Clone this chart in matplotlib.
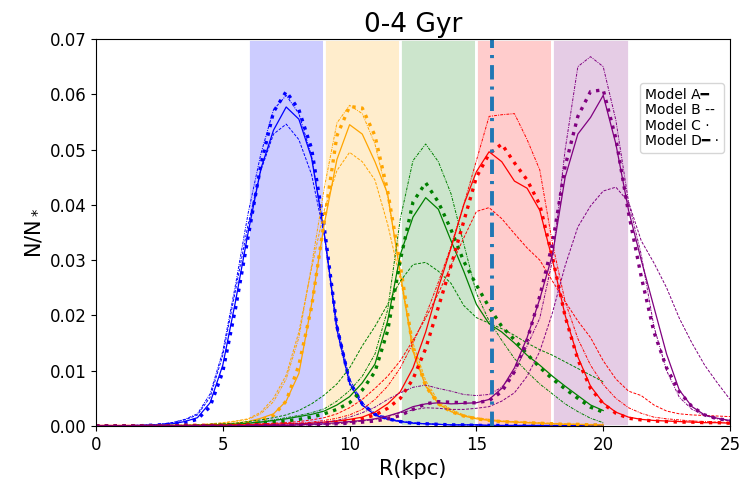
#!/usr/bin/env python3

# radial distribution of young stars (0-4 Gyr) for the four models,
# one colour per birth annulus

import numpy as np
import matplotlib.pyplot as plt
from matplotlib.colors import to_rgba
from matplotlib.lines import Line2D

nan = np.nan

radius = [0.0, 0.5, 1.0, 1.5, 2.0, 2.5, 3.0, 3.5, 4.0, 4.5,
          5.0, 5.5, 6.0, 6.5, 7.0, 7.5, 8.0, 8.5, 9.0, 9.5,
          10.0, 10.5, 11.0, 11.5, 12.0, 12.5, 13.0, 13.5, 14.0, 14.5,
          15.0, 15.5, 16.0, 16.5, 17.0, 17.5, 18.0, 18.5, 19.0, 19.5,
          20.0, 20.5, 21.0, 21.5, 22.0, 22.5, 23.0, 23.5, 24.0, 24.5, 25.0]

# annulus 6-9 kpc
blue_a = [0, 0, 0, 0.0001, 0.0001, 0.0002, 0.0004, 0.0008, 0.0015, 0.0042,
          0.0110, 0.0225, 0.0350, 0.0465, 0.0535, 0.0577, 0.0555, 0.0485, 0.0350, 0.0175,
          0.0078, 0.0038, 0.0020, 0.0012, 0.0008, 0.0005, 0.0004, 0.0003, 0.0002, 0.0002,
          0.0002, 0.0001, 0.0001, 0.0001, 0.0001, 0.0001, 0.0001, 0.0001, 0.0001, 0.0001,
          0.0001, nan, nan, nan, nan, nan, nan, nan, nan, nan, nan]
blue_b = [0, 0, 0, 0.0001, 0.0002, 0.0003, 0.0006, 0.0011, 0.0020, 0.0052,
          0.0128, 0.0245, 0.0365, 0.0462, 0.0528, 0.0546, 0.0518, 0.0455, 0.0345, 0.0185,
          0.0085, 0.0042, 0.0023, 0.0014, 0.0009, 0.0006, 0.0004, 0.0003, 0.0002, 0.0002,
          0.0002, 0.0001, 0.0001, 0.0001, 0.0001, 0.0001, 0.0001, 0.0001, 0.0001, 0.0001,
          0.0001, nan, nan, nan, nan, nan, nan, nan, nan, nan, nan]
blue_c = [0, 0, 0, 0, 0.0001, 0.0002, 0.0003, 0.0006, 0.0012, 0.0035,
          0.0098, 0.0212, 0.0342, 0.0472, 0.0568, 0.0605, 0.0572, 0.0502, 0.0360, 0.0180,
          0.0080, 0.0040, 0.0021, 0.0013, 0.0008, 0.0005, 0.0004, 0.0003, 0.0002, 0.0002,
          0.0001, 0.0001, 0.0001, 0.0001, 0.0001, 0.0001, 0.0001, 0.0001, 0.0001, 0.0001,
          0.0001, nan, nan, nan, nan, nan, nan, nan, nan, nan, nan]
blue_d = [0, 0, 0, 0.0001, 0.0002, 0.0003, 0.0006, 0.0012, 0.0022, 0.0058,
          0.0135, 0.0255, 0.0385, 0.0492, 0.0572, 0.0598, 0.0565, 0.0488, 0.0348, 0.0172,
          0.0075, 0.0037, 0.0020, 0.0012, 0.0008, 0.0005, 0.0004, 0.0003, 0.0002, 0.0002,
          0.0002, 0.0001, 0.0001, 0.0001, 0.0001, 0.0001, 0.0001, 0.0001, 0.0001, 0.0001,
          0.0001, nan, nan, nan, nan, nan, nan, nan, nan, nan, nan]

# annulus 9-12 kpc
orange_a = [0, 0, 0, 0, 0, 0.0001, 0.0001, 0.0001, 0.0001, 0.0002,
            0.0003, 0.0005, 0.0008, 0.0014, 0.0022, 0.0045, 0.0095, 0.0220, 0.0365, 0.0482,
            0.0545, 0.0528, 0.0478, 0.0420, 0.0275, 0.0135, 0.0072, 0.0040, 0.0026, 0.0018,
            0.0013, 0.0010, 0.0008, 0.0007, 0.0006, 0.0005, 0.0004, 0.0003, 0.0003, 0.0002,
            0.0002, nan, nan, nan, nan, nan, nan, nan, nan, nan, nan]
orange_b = [0, 0, 0, 0, 0.0001, 0.0001, 0.0001, 0.0001, 0.0002, 0.0004,
            0.0006, 0.0009, 0.0013, 0.0025, 0.0050, 0.0092, 0.0170, 0.0285, 0.0390, 0.0462,
            0.0495, 0.0478, 0.0445, 0.0365, 0.0265, 0.0150, 0.0082, 0.0045, 0.0030, 0.0020,
            0.0015, 0.0012, 0.0009, 0.0008, 0.0007, 0.0006, 0.0005, 0.0004, 0.0003, 0.0003,
            0.0002, nan, nan, nan, nan, nan, nan, nan, nan, nan, nan]
orange_c = [0, 0, 0, 0, 0, 0, 0, 0.0001, 0.0001, 0.0001,
            0.0002, 0.0003, 0.0005, 0.0010, 0.0019, 0.0045, 0.0110, 0.0215, 0.0370, 0.0525,
            0.0578, 0.0575, 0.0525, 0.0425, 0.0290, 0.0140, 0.0072, 0.0040, 0.0026, 0.0018,
            0.0013, 0.0010, 0.0008, 0.0007, 0.0006, 0.0005, 0.0004, 0.0003, 0.0003, 0.0002,
            0.0002, nan, nan, nan, nan, nan, nan, nan, nan, nan, nan]
orange_d = [0, 0, 0, 0, 0.0001, 0.0001, 0.0001, 0.0001, 0.0002, 0.0003,
            0.0005, 0.0008, 0.0012, 0.0022, 0.0044, 0.0085, 0.0160, 0.0290, 0.0430, 0.0548,
            0.0580, 0.0565, 0.0510, 0.0415, 0.0280, 0.0140, 0.0075, 0.0042, 0.0027, 0.0019,
            0.0014, 0.0011, 0.0009, 0.0007, 0.0006, 0.0005, 0.0004, 0.0003, 0.0003, 0.0002,
            0.0002, nan, nan, nan, nan, nan, nan, nan, nan, nan, nan]

# annulus 12-15 kpc
green_a = [0, 0, 0, 0, 0, 0, 0.0001, 0.0001, 0.0001, 0.0002,
           0.0002, 0.0003, 0.0005, 0.0007, 0.0010, 0.0013, 0.0017, 0.0021, 0.0027, 0.0038,
           0.0053, 0.0078, 0.0112, 0.0190, 0.0310, 0.0378, 0.0413, 0.0392, 0.0335, 0.0280,
           0.0220, 0.0185, 0.0170, 0.0150, 0.0128, 0.0110, 0.0090, 0.0072, 0.0055, 0.0038,
           0.0028, nan, nan, nan, nan, nan, nan, nan, nan, nan, nan]
green_b = [0, 0, 0, 0, 0, 0, 0.0001, 0.0001, 0.0002, 0.0003,
           0.0004, 0.0005, 0.0008, 0.0011, 0.0015, 0.0020, 0.0028, 0.0040, 0.0056, 0.0076,
           0.0105, 0.0145, 0.0180, 0.0220, 0.0262, 0.0292, 0.0296, 0.0280, 0.0258, 0.0218,
           0.0196, 0.0186, 0.0176, 0.0164, 0.0150, 0.0138, 0.0128, 0.0116, 0.0104, 0.0092,
           0.0080, nan, nan, nan, nan, nan, nan, nan, nan, nan, nan]
green_c = [0, 0, 0, 0, 0, 0, 0, 0, 0, 0.0001,
           0.0001, 0.0002, 0.0003, 0.0005, 0.0007, 0.0009, 0.0012, 0.0016, 0.0022, 0.0030,
           0.0042, 0.0065, 0.0098, 0.0172, 0.0300, 0.0405, 0.0440, 0.0405, 0.0355, 0.0298,
           0.0255, 0.0215, 0.0180, 0.0156, 0.0130, 0.0106, 0.0085, 0.0067, 0.0050, 0.0034,
           0.0025, nan, nan, nan, nan, nan, nan, nan, nan, nan, nan]
green_d = [0, 0, 0, 0, 0, 0, 0.0001, 0.0001, 0.0001, 0.0001,
           0.0002, 0.0003, 0.0005, 0.0008, 0.0011, 0.0015, 0.0019, 0.0024, 0.0031, 0.0045,
           0.0064, 0.0090, 0.0130, 0.0210, 0.0375, 0.0480, 0.0510, 0.0478, 0.0420, 0.0330,
           0.0240, 0.0190, 0.0155, 0.0122, 0.0098, 0.0076, 0.0058, 0.0040, 0.0026, 0.0014,
           0.0006, nan, nan, nan, nan, nan, nan, nan, nan, nan, nan]

# annulus 15-18 kpc
red_a = [0.0001, 0.0001, 0.0001, 0.0001, 0.0001, 0.0001, 0.0001, 0.0001, 0.0001, 0.0001,
         0.0001, 0.0002, 0.0002, 0.0003, 0.0003, 0.0004, 0.0004, 0.0005, 0.0007, 0.0009,
         0.0012, 0.0016, 0.0025, 0.0040, 0.0062, 0.0105, 0.0170, 0.0250, 0.0322, 0.0400,
         0.0460, 0.0496, 0.0478, 0.0443, 0.0430, 0.0390, 0.0300, 0.0200, 0.0125, 0.0072,
         0.0042, 0.0025, 0.0016, 0.0012, 0.0010, 0.0009, 0.0008, 0.0007, 0.0006, 0.0006, 0.0005]
red_b = [0.0001, 0.0001, 0.0001, 0.0001, 0.0001, 0.0001, 0.0001, 0.0001, 0.0001, 0.0002,
         0.0002, 0.0002, 0.0003, 0.0004, 0.0005, 0.0006, 0.0008, 0.0011, 0.0015, 0.0022,
         0.0033, 0.0048, 0.0068, 0.0090, 0.0118, 0.0155, 0.0195, 0.0240, 0.0290, 0.0340,
         0.0388, 0.0395, 0.0375, 0.0348, 0.0322, 0.0300, 0.0262, 0.0225, 0.0190, 0.0160,
         0.0118, 0.0085, 0.0063, 0.0055, 0.0038, 0.0027, 0.0022, 0.0020, 0.0019, 0.0018, 0.0017]
red_c = [0, 0, 0, 0, 0, 0, 0, 0.0001, 0.0001, 0.0001,
         0.0001, 0.0001, 0.0002, 0.0002, 0.0002, 0.0003, 0.0003, 0.0004, 0.0005, 0.0007,
         0.0009, 0.0013, 0.0020, 0.0032, 0.0050, 0.0085, 0.0140, 0.0215, 0.0290, 0.0370,
         0.0450, 0.0492, 0.0510, 0.0476, 0.0445, 0.0400, 0.0305, 0.0198, 0.0120, 0.0068,
         0.0040, 0.0023, 0.0014, 0.0011, 0.0009, 0.0008, 0.0007, 0.0007, 0.0006, 0.0006, 0.0005]
red_d = [0.0001, 0.0001, 0.0001, 0.0001, 0.0001, 0.0001, 0.0001, 0.0001, 0.0001, 0.0001,
         0.0001, 0.0001, 0.0002, 0.0002, 0.0003, 0.0004, 0.0005, 0.0007, 0.0010, 0.0014,
         0.0020, 0.0030, 0.0048, 0.0072, 0.0105, 0.0150, 0.0200, 0.0260, 0.0325, 0.0400,
         0.0480, 0.0560, 0.0563, 0.0565, 0.0518, 0.0463, 0.0330, 0.0225, 0.0158, 0.0110,
         0.0075, 0.0050, 0.0033, 0.0023, 0.0016, 0.0013, 0.0011, 0.0009, 0.0008, 0.0007, 0.0006]

# annulus 18-21 kpc
purple_a = [0, 0, 0, 0, 0, 0, 0, 0, 0, 0,
            0, 0, 0.0001, 0.0001, 0.0001, 0.0001, 0.0002, 0.0003, 0.0004, 0.0006,
            0.0008, 0.0010, 0.0013, 0.0018, 0.0025, 0.0035, 0.0040, 0.0042, 0.0040, 0.0041,
            0.0042, 0.0048, 0.0068, 0.0105, 0.0160, 0.0230, 0.0310, 0.0450, 0.0528, 0.0558,
            0.0598, 0.0510, 0.0390, 0.0300, 0.0215, 0.0130, 0.0065, 0.0035, 0.0020, 0.0014, 0.0010]
purple_b = [0, 0, 0, 0, 0, 0, 0, 0, 0, 0,
            0, 0, 0.0001, 0.0001, 0.0001, 0.0001, 0.0002, 0.0002, 0.0003, 0.0004,
            0.0006, 0.0009, 0.0012, 0.0017, 0.0024, 0.0029, 0.0033, 0.0032, 0.0030, 0.0030,
            0.0032, 0.0035, 0.0045, 0.0060, 0.0090, 0.0135, 0.0205, 0.0290, 0.0360, 0.0398,
            0.0425, 0.0432, 0.0405, 0.0335, 0.0295, 0.0250, 0.0195, 0.0150, 0.0110, 0.0078, 0.0048]
purple_c = [0, 0, 0, 0, 0, 0, 0, 0, 0, 0,
            0, 0, 0, 0.0001, 0.0001, 0.0001, 0.0001, 0.0002, 0.0003, 0.0004,
            0.0005, 0.0007, 0.0009, 0.0013, 0.0019, 0.0030, 0.0040, 0.0044, 0.0043, 0.0042,
            0.0042, 0.0046, 0.0062, 0.0098, 0.0155, 0.0235, 0.0330, 0.0470, 0.0560, 0.0605,
            0.0608, 0.0520, 0.0385, 0.0270, 0.0170, 0.0105, 0.0062, 0.0035, 0.0020, 0.0013, 0.0010]
purple_d = [0, 0, 0, 0, 0, 0, 0, 0, 0, 0,
            0, 0, 0.0001, 0.0001, 0.0002, 0.0003, 0.0004, 0.0005, 0.0007, 0.0010,
            0.0016, 0.0024, 0.0034, 0.0048, 0.0060, 0.0070, 0.0074, 0.0068, 0.0063, 0.0057,
            0.0055, 0.0057, 0.0070, 0.0098, 0.0145, 0.0195, 0.0300, 0.0500, 0.0650, 0.0668,
            0.0650, 0.0553, 0.0405, 0.0310, 0.0180, 0.0100, 0.0052, 0.0030, 0.0019, 0.0013, 0.0009]

colours = ["blue", "orange", "green", "red", "purple"]
annuli = [(6, 9), (9, 12), (12, 15), (15, 18), (18, 21)]
profiles = [
	[blue_a, blue_b, blue_c, blue_d],
	[orange_a, orange_b, orange_c, orange_d],
	[green_a, green_b, green_c, green_d],
	[red_a, red_b, red_c, red_d],
	[purple_a, purple_b, purple_c, purple_d],
]
r_cut = 15.6

models = ["Model A", "Model B", "Model C", "Model D"]
model_marks = ["\u2501", " --", " \u00b7", "\u2501 \u00b7"]

# A solid, B dashed, C dotted, D dash-dot
styles = [
	dict(linestyle="-", linewidth=0.9),
	dict(linestyle=(0, (3, 1.5)), linewidth=0.7),
	dict(linestyle=":", linewidth=2.4),
	dict(linestyle=(0, (3, 1.2, 1, 1.2)), linewidth=0.7),
]

fig = plt.figure(figsize=(7.4, 4.91), dpi=100)
ax = fig.add_axes([0.1297, 0.1324, 0.8568, 0.7882])

for col, (lo, hi) in zip(colours, annuli):
	ax.axvspan(lo, hi, facecolor=to_rgba(col, 0.2), edgecolor="white", linewidth=2)

for col, curves in zip(colours, profiles):
	for ys, st in zip(curves, styles):
		ax.plot(radius, ys, color=col, **st)

ax.axvline(r_cut, color="tab:blue", linewidth=2.8, linestyle=(0, (3.7, 1.8, 0.8, 1.8)))

ax.set_xlim(0, 25)
ax.set_ylim(0, 0.07)
ax.set_xlabel("R(kpc)", fontsize=15)
ax.set_ylabel("N/N$_*$", fontsize=15)
ax.set_title("0-4 Gyr", fontsize=19, pad=5)
ax.tick_params(labelsize=12)

handles = [Line2D([], [], linestyle="none") for m in models]
labels = [m + k for m, k in zip(models, model_marks)]
ax.legend(handles, labels, loc="upper right", bbox_to_anchor=(0.99, 0.886),
          borderaxespad=0, handlelength=0, handletextpad=0, fontsize=10,
          labelspacing=0.1, borderpad=0.35)

plt.savefig("out.png")
plt.close()
